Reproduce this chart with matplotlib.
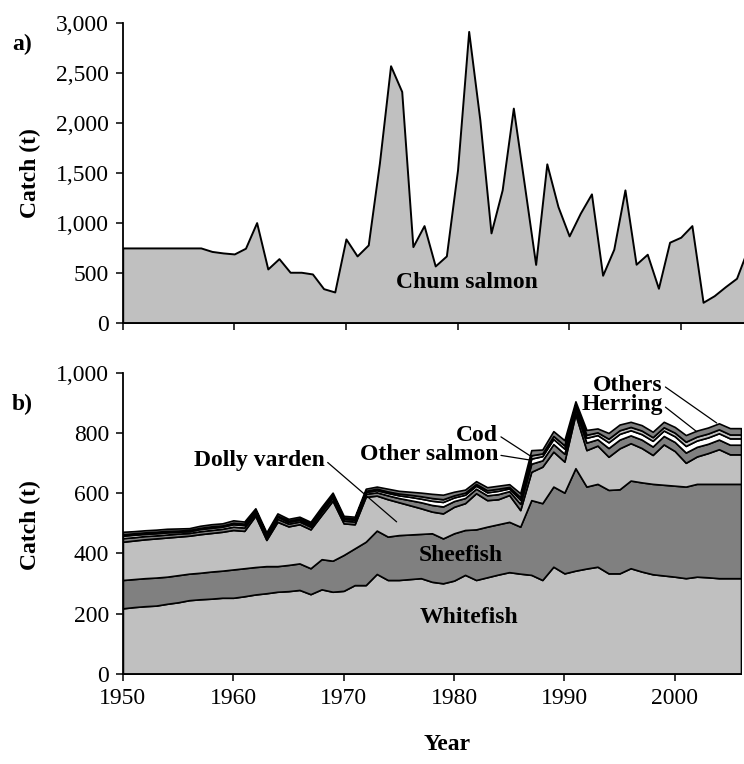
import matplotlib
matplotlib.use("Agg")
import matplotlib.pyplot as plt
from matplotlib.ticker import FuncFormatter

plt.rcParams['font.family'] = ['Liberation Serif', 'DejaVu Serif']

years = list(range(1950, 2007))

chum = [750, 750, 750, 750, 750, 750, 750, 750, 715, 700,
        690, 747, 1003, 540, 643, 507, 507, 490, 343, 310,
        840, 670, 780, 1597, 2570, 2313, 763, 973, 570, 670,
        1530, 2913, 2030, 900, 1330, 2147, 1370, 585, 1590, 1163,
        870, 1097, 1290, 477, 737, 1330, 587, 687, 347, 807,
        857, 973, 207, 273, 363, 447, 740]

whitefish = [218, 222, 225, 227, 233, 238, 245, 248, 250, 253,
             253, 258, 264, 268, 273, 275, 279, 265, 281, 273,
             276, 295, 295, 332, 312, 312, 315, 318, 306, 301,
             310, 329, 312, 321, 330, 338, 333, 329, 312, 356,
             334, 343, 350, 356, 334, 334, 351, 340, 331, 327,
             323, 318, 323, 321, 318, 318, 318]

sheefish = [94, 93, 93, 93, 90, 90, 88, 88, 90, 90,
            94, 93, 91, 90, 85, 87, 88, 86, 100, 103,
            119, 122, 144, 144, 144, 149, 148, 147, 161, 149,
            157, 149, 168, 168, 167, 167, 156, 248, 255, 266,
            268, 340, 272, 275, 277, 279, 291, 296, 300, 301,
            302, 304, 308, 310, 313, 313, 313]

dolly_varden = [127, 128, 129, 130, 130, 128, 126, 128, 128, 129,
                131, 124, 170, 87, 147, 128, 130, 129, 147, 199,
                105, 80, 149, 116, 124, 109, 97, 85, 72, 83,
                88, 89, 120, 88, 83, 89, 55, 94, 121, 116,
                103, 179, 121, 127, 110, 136, 124, 114, 96, 134,
                115, 79, 91, 102, 115, 98, 98]

other_salmon = [12, 11, 11, 10, 10, 10, 9, 10, 10, 10,
                11, 11, 9, 9, 10, 9, 9, 9, 10, 10,
                9, 9, 10, 11, 13, 14, 17, 20, 22, 23,
                19, 17, 15, 16, 17, 13, 21, 27, 21, 25,
                26, 16, 25, 21, 29, 29, 26, 28, 28, 28,
                30, 34, 32, 31, 32, 32, 32]

cod = [8, 8, 7, 7, 7, 6, 6, 7, 7, 7,
       8, 8, 6, 6, 7, 6, 6, 6, 6, 6,
       6, 6, 6, 7, 8, 9, 11, 12, 14, 15,
       12, 11, 10, 10, 11, 9, 13, 17, 14, 17,
       17, 10, 16, 14, 19, 19, 17, 18, 19, 18,
       19, 22, 21, 21, 21, 21, 21]

herring = [5, 5, 5, 5, 5, 4, 4, 4, 5, 4,
           5, 5, 4, 4, 4, 4, 4, 4, 4, 4,
           4, 4, 4, 5, 5, 6, 7, 8, 9, 9,
           7, 7, 6, 7, 7, 5, 9, 11, 9, 10,
           11, 7, 10, 9, 12, 12, 11, 12, 12, 11,
           12, 14, 13, 13, 13, 13, 13]

others = [8, 7, 7, 7, 7, 7, 6, 7, 7, 7,
          8, 7, 6, 6, 7, 6, 6, 6, 7, 7,
          6, 6, 7, 7, 9, 9, 10, 12, 14, 15,
          12, 10, 9, 10, 10, 9, 13, 17, 13, 16,
          17, 10, 16, 13, 19, 19, 17, 18, 18, 18,
          19, 22, 20, 20, 20, 21, 21]

layer_names = ["Whitefish", "Sheefish", "Dolly varden", "Other salmon", "Cod", "Herring", "Others"]
layer_colors = ["#c0c0c0", "#808080", "#c0c0c0", "#808080", "#ffffff", "#c0c0c0", "#808080"]

chum_ticks = [0, 500, 1000, 1500, 2000, 2500, 3000]
b_ticks = [0, 200, 400, 600, 800, 1000]
x_ticks = [1950, 1960, 1970, 1980, 1990, 2000]

W, H = 744, 764
fig = plt.figure(figsize=(W / 100, H / 100), dpi=100)

FS = 17
comma = FuncFormatter(lambda v, p: f"{int(v):,}")

def style(ax):
    for s in ['top', 'right']:
        ax.spines[s].set_visible(False)
    for s in ['left', 'bottom']:
        ax.spines[s].set_linewidth(1.3)
        ax.spines[s].set_zorder(5)
    ax.tick_params(axis='both', direction='out', length=5, width=1.1, labelsize=FS, pad=5)
    ax.set_xticks(x_ticks)
    ax.set_xlim(1950, 2006)
    ax.set_facecolor('none')

# Panel a
axa = fig.add_axes([122.7 / W, 1 - 323 / H, 625.0 / W, 300.3 / H])
axa.fill_between(years, chum, 0, facecolor="#c0c0c0", edgecolor="black", linewidth=1.4)
style(axa)
axa.set_ylim(0, 3000)
axa.set_yticks(chum_ticks)
axa.yaxis.set_major_formatter(comma)
axa.set_xticklabels([])
axa.text(1980.85, 400, "Chum salmon", fontsize=FS, fontweight='bold', ha='center', va='center')

# Panel b
axb = fig.add_axes([122.9 / W, 1 - 674 / H, 618.1 / W, 301.3 / H])
layers = [whitefish, sheefish, dolly_varden, other_salmon, cod, herring, others]
axb.stackplot(years, layers, colors=layer_colors, edgecolor="black", linewidth=1.2, labels=layer_names)
style(axb)
axb.set_ylim(0, 1000)
axb.set_yticks(b_ticks)
axb.yaxis.set_major_formatter(comma)
axb.set_xticklabels([str(x) for x in x_ticks])

bold = dict(fontsize=FS, fontweight='bold')
axb.text(1981.4, 186, "Whitefish", ha='center', va='center', **bold)
axb.text(1980.6, 392, "Sheefish", ha='center', va='center', **bold)

lead = dict(arrowstyle='-', color='black', lw=0.9, shrinkA=0, shrinkB=0, relpos=(1.0, 0.5))
axb.annotate("Dolly varden", xy=(1974.8, 505), xytext=(1968.3, 710), ha='right', va='center',
             arrowprops=lead, **bold)
axb.annotate("Other salmon", xy=(1986.9, 710), xytext=(1984.0, 727), ha='right', va='center',
             arrowprops=lead, **bold)
axb.annotate("Cod", xy=(1986.9, 724), xytext=(1984.0, 793), ha='right', va='center',
             arrowprops=lead, **bold)
axb.annotate("Herring", xy=(2002.0, 804), xytext=(1998.9, 893), ha='right', va='center',
             arrowprops=lead, **bold)
axb.annotate("Others", xy=(2003.8, 833), xytext=(1998.9, 959), ha='right', va='center',
             arrowprops=lead, **bold)

# Figure-level labels
fig.text(30 / W, 1 - 173 / H, "Catch (t)", rotation=90, ha='center', va='center', **bold)
fig.text(30 / W, 1 - 525 / H, "Catch (t)", rotation=90, ha='center', va='center', **bold)
fig.text(12 / W, 1 - 44 / H, "a)", ha='left', va='center', **bold)
fig.text(12 / W, 1 - 404 / H, "b)", ha='left', va='center', **bold)
fig.text(447 / W, 1 - 745 / H, "Year", ha='center', va='center', **bold)

fig.savefig("out.png", dpi=100)
